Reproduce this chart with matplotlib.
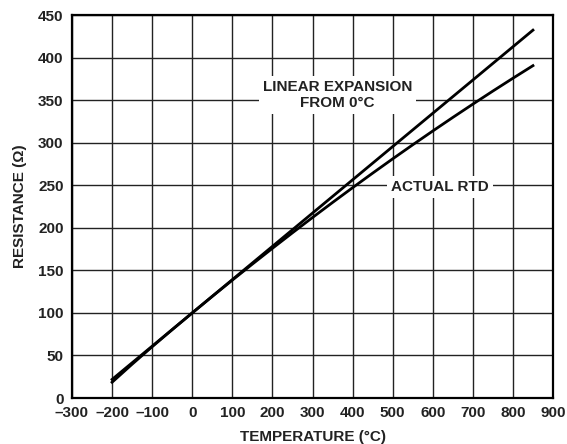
import numpy as np
import matplotlib.pyplot as plt

# Pt100 resistance table (ohms) every 50 degC
temp_c = [-200, -150, -100, -50, 0, 50, 100, 150, 200, 250, 300, 350,
          400, 450, 500, 550, 600, 650, 700, 750, 800, 850]
rtd_ohm = [18.52, 39.72, 60.26, 80.31, 100.00, 119.40, 138.51, 157.33,
           175.86, 194.10, 212.05, 229.72, 247.09, 264.18, 280.98, 297.49,
           313.71, 329.64, 345.28, 360.64, 375.70, 390.48]

# straight line through 0 degC, end points only
lin_temp = [-200, 850]
lin_ohm = [21.83, 432.21]

plt.rcParams['font.family'] = ['Liberation Sans', 'DejaVu Sans']
plt.rcParams['font.weight'] = 'bold'

fig = plt.figure(figsize=(5.67, 4.44), dpi=100)
ax = fig.add_axes([72/567, 1-398/444, 481/567, 383/444])

ax.plot(lin_temp, lin_ohm, color='black', lw=2.0, zorder=3)
ax.plot(temp_c, rtd_ohm, color='black', lw=2.0, zorder=3)

ax.set_xlim(-300, 900)
ax.set_ylim(0, 450)
ax.set_xticks(np.arange(-300, 901, 100))
ax.set_yticks(np.arange(0, 451, 50))
ax.set_xticklabels(['\u2013300', '\u2013200', '\u2013100'] + [str(v) for v in range(0, 901, 100)])
ax.tick_params(length=0, labelsize=11, colors='#222222')
ax.tick_params(axis='x', pad=6)
ax.tick_params(axis='y', pad=6)
for lab in ax.get_xticklabels() + ax.get_yticklabels():
    lab.set_fontweight('bold')
ax.grid(True, color='#222222', lw=1.0)
for s in ax.spines.values():
    s.set_linewidth(1.6)
    s.set_color('black')

ax.set_xlabel('TEMPERATURE (°C)', fontsize=11, fontweight='bold', color='#222222', labelpad=7)
ax.set_ylabel('RESISTANCE (Ω)', fontsize=11, fontweight='bold', color='#222222', labelpad=8)

box = dict(facecolor='white', edgecolor='none', pad=3)
ax.text(362, 356, 'LINEAR EXPANSION\nFROM 0°C', ha='center', va='center',
        fontsize=11, fontweight='bold', color='#222222', bbox=box, zorder=4,
        linespacing=1.2)
ax.text(617, 248, 'ACTUAL RTD', ha='center', va='center', fontsize=11,
        fontweight='bold', color='#222222', bbox=box, zorder=4)

fig.savefig('out.png', dpi=100)
